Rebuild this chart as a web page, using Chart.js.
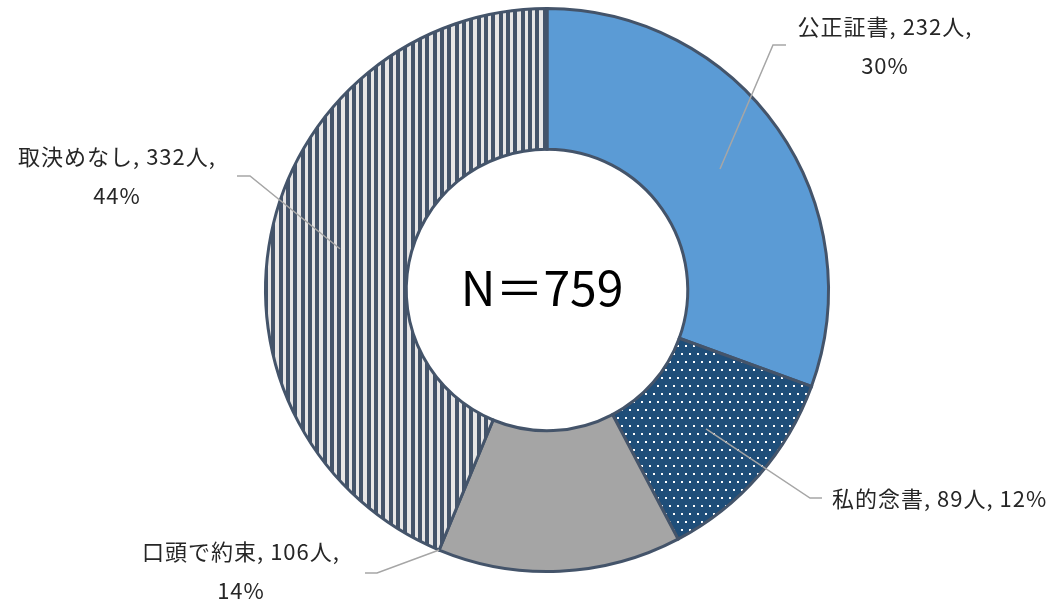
<!DOCTYPE html>
<html><head><meta charset="utf-8">
<script src="https://cdn.jsdelivr.net/npm/chart.js@4/dist/chart.umd.min.js"></script>
<style>html,body{margin:0;padding:0;background:#fff}#wrap{position:relative;width:1056px;height:608px}</style>
</head><body><div id="wrap"><canvas id="c"></canvas></div>
<script>
// ---- data ----
const categories = ['公正証書', '私的念書', '口頭で約束', '取決めなし'];
const counts = [232, 89, 106, 332];
const percentLabels = ['30%', '12%', '14%', '44%'];
const unitLabel = '人';
const centerLabel = 'N＝759';

// ---- fills ----
function makePattern(w, h, draw) {
  const c = document.createElement('canvas');
  c.width = w; c.height = h;
  const g = c.getContext('2d');
  draw(g);
  return g.createPattern(c, 'repeat');
}
const dotFill = makePattern(8, 16, g => {
  g.fillStyle = '#1f4e79'; g.fillRect(0, 0, 8, 16);
  g.fillStyle = '#ffffff'; g.fillRect(1, 1, 2, 2); g.fillRect(5, 9, 2, 2);
});
const stripeFill = makePattern(22, 4, g => {
  g.fillStyle = '#e7e6e6'; g.fillRect(0, 0, 22, 4);
  g.fillStyle = '#44546a'; g.fillRect(0, 0, 4, 4); g.fillRect(7, 0, 4, 4); g.fillRect(15, 0, 4, 4);
});
const fills = ['#5b9bd5', dotFill, '#a5a5a5', stripeFill];

// ---- label layout (positions of annotation text / leader elbows) ----
const labelLayout = [
  {two: true, x: 885, y: 27, align: 'center', anchor: 'mid', elbow: [[773, 45], [786, 45]]},
  {two: false, x: 832, y: 499, align: 'left', anchor: 'mid', elbow: [[810, 498], [822, 498]]},
  {two: true, x: 241, y: 552, align: 'center', anchor: 'endOuter', elbow: [[377, 573], [365, 573]]},
  {two: true, x: 117, y: 157, align: 'center', anchor: 'mid', elbow: [[250, 176], [237, 176]]}
];

const labelPlugin = {
  id: 'labels',
  afterDatasetsDraw(chart) {
    const ctx = chart.ctx;
    const meta = chart.getDatasetMeta(0);
    ctx.save();
    meta.data.forEach((arc, i) => {
      const p = arc.getProps(['x', 'y', 'startAngle', 'endAngle', 'innerRadius', 'outerRadius'], true);
      const L = labelLayout[i];
      let a, r;
      if (L.anchor === 'mid') { a = (p.startAngle + p.endAngle) / 2; r = (p.innerRadius + p.outerRadius) / 2; }
      else { a = p.endAngle; r = p.outerRadius; }
      const sx = p.x + r * Math.cos(a), sy = p.y + r * Math.sin(a);
      ctx.beginPath();
      ctx.strokeStyle = '#a6a6a6';
      ctx.lineWidth = 1.5;
      ctx.moveTo(sx, sy);
      L.elbow.forEach(pt => ctx.lineTo(pt[0], pt[1]));
      ctx.stroke();
      ctx.fillStyle = '#262626';
      ctx.font = '22px "Noto Sans CJK JP", sans-serif';
      ctx.letterSpacing = '1px';
      ctx.textBaseline = 'middle';
      ctx.textAlign = L.align;
      if (L.two) {
        ctx.fillText(categories[i] + ', ' + counts[i] + unitLabel + ',', L.x, L.y);
        ctx.fillText(percentLabels[i], L.x, L.y + 39);
      } else {
        ctx.fillText(categories[i] + ', ' + counts[i] + unitLabel + ', ' + percentLabels[i], L.x, L.y);
      }
    });
    // center text
    const c0 = meta.data[0];
    ctx.letterSpacing = '0px';
    ctx.fillStyle = '#000000';
    ctx.font = '48px "Noto Sans CJK JP", sans-serif';
    ctx.textAlign = 'center';
    ctx.textBaseline = 'middle';
    ctx.fillText(centerLabel, c0.x - 5, c0.y - 2);
    ctx.restore();
  }
};

new Chart(document.getElementById('c'), {
  type: 'doughnut',
  data: {
    labels: categories,
    datasets: [{
      data: counts,
      backgroundColor: fills,
      borderColor: '#44546a',
      borderWidth: 3,
      borderJoinStyle: 'miter',
      hoverOffset: 0
    }]
  },
  options: {
    responsive: true,
    maintainAspectRatio: false,
    animation: false,
    cutout: '50%',
    layout: {padding: {top: 7, bottom: 35, left: 38, right: 0}},
    plugins: {legend: {display: false}, tooltip: {enabled: false}}
  },
  plugins: [labelPlugin]
});
</script>
</body></html>
